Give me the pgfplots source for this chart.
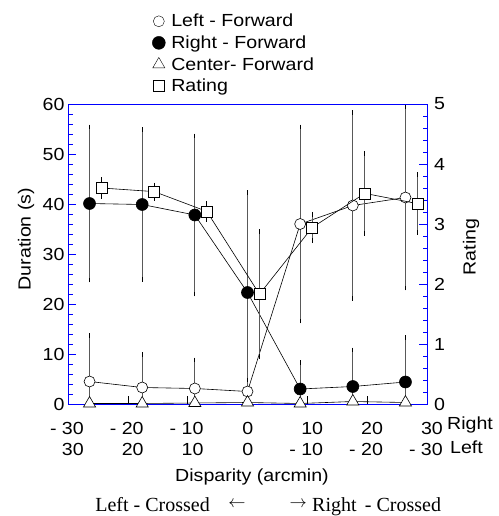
\documentclass[border=0pt]{standalone}
\usepackage{fontspec}
\setmainfont{Liberation Sans}[FakeStretch=1.12]
\newfontfamily\timesfont{Liberation Serif}
\usepackage{pgfplots}
\pgfplotsset{compat=1.18}
\newcommand\fs{\fontsize{17.5bp}{21bp}\selectfont}
\newcommand\serfs{\timesfont\fontsize{20bp}{22bp}\selectfont}

\pgfplotsset{
  errb/.style={error bars/.cd, y dir=both, y explicit,
    error bar style={black!65, line width=0.9bp},
    error mark options={black, mark size=2.4bp, line width=0.8bp}},
  box/.style={at={(68bp,112bp)}, anchor=south west,
    scale only axis, width=359bp, height=300bp, xmin=-30, xmax=30,
    font=\fs, /pgf/number format/assume math mode=true,
    axis line style={blue, line width=0.9bp},
    tick align=inside, major tick length=8bp, minor tick length=4.5bp,
    y tick style={blue, line width=0.8bp}, minor y tick num=4},
}

\begin{document}
\begin{tikzpicture}
\path[use as bounding box] (0bp,0bp) rectangle (499bp,516bp);

\begin{axis}[box,
  ymin=0, ymax=60,
  xtick pos=bottom, ytick pos=left,
  xtick={-30,-20,...,30},
  xticklabels={{- 30\\30},{- 20\\20},{- 10\\10},{0\rule{10bp}{0pt}\\0\rule{10bp}{0pt}},{10\\- 10},{20\\- 20},{30\\- 30}},
  xticklabel style={align=right, anchor=north east, inner sep=0pt, xshift=16bp, yshift=-18bp, font=\fs},
  x tick style={black, line width=0.6bp},
  ytick={0,10,...,60},
  yticklabel style={font=\fs},
  xlabel={Disparity (arcmin)},
  xlabel style={at={(axis description cs:0.5125,-0.2433)}, anchor=center, font=\fs},
  ylabel={Duration (s)},
  ylabel style={at={(axis description cs:-0.117,0.55)}, anchor=center, rotate=0, font=\fs},
  legend style={draw=none, fill=none, at={(axis description cs:0.226,1.3133)}, anchor=north west,
    font=\fs, row sep=3.4bp, /tikz/every odd column/.append style={column sep=4bp}},
  legend cell align=left,
  extra description/.code={
    \node[anchor=west, inner sep=0pt, font=\fs] at (1.0557,-0.07) {Right};
    \node[anchor=west, inner sep=0pt, font=\fs] at (1.064,-0.1433) {Left};
    \node[anchor=east, inner sep=0pt, text depth=0pt, font=\serfs] at (0.3955,-0.335) {Left - Crossed};
    \node[inner sep=0pt] at (0.471,-0.335) {$\leftarrow$};
    \node[inner sep=0pt] at (0.641,-0.335) {$\rightarrow$};
    \node[anchor=west, inner sep=0pt, text depth=0pt, font=\serfs] at (0.6797,-0.335) {Right\, - Crossed};
  },
]
\addlegendimage{only marks, mark=*, mark size=5.5bp, mark options={fill=white, draw=black}}
\addlegendentry{Left - Forward}
\addlegendimage{only marks, mark=*, mark size=6.5bp, mark options={fill=black, draw=black}}
\addlegendentry{Right - Forward}
\addlegendimage{only marks, mark=triangle*, mark size=7bp, mark options={fill=white, draw=black}}
\addlegendentry{Center- Forward}
\addlegendimage{only marks, mark=square*, mark size=5.5bp, mark options={fill=white, draw=black}}
\addlegendentry{Rating}

% Right - Forward
\addplot[black, line width=0.6bp, mark=*, mark size=6bp, mark options={fill=black}, errb] coordinates {
  (-26.4,40.1) +- (0,15.3)
  (-17.6,39.9) +- (0,15.0)
  (-8.8,37.8)  +- (0,15.8)
  (0,22.3)     +- (0,20.0)
  (8.8,3.0)    +- (0,5.3)
  (17.6,3.5)   +- (0,7.3)
  (26.4,4.4)   +- (0,8.9)
};
% Left - Forward
\addplot[black, line width=0.6bp, mark=*, mark size=5.5bp, mark options={fill=white}, errb] coordinates {
  (-26.4,4.5)  +- (0,9.2)
  (-17.6,3.3)  +- (0,6.6)
  (-8.8,3.1)   +- (0,5.7)
  (0,2.5)      +- (0,2.3)
  (8.8,36.0)   +- (0,19.4)
  (17.6,39.7)  +- (0,18.6)
  (26.4,41.3)  +- (0,18.1)
};
% Center - Forward
\addplot[black, line width=0.6bp, mark=triangle*, mark size=7bp, mark options={fill=white}] coordinates {
  (-26.4,0.1) (-17.6,0.1) (-8.8,0.2) (0,0.3) (8.8,0.1) (17.6,0.5) (26.4,0.3)
};
\end{axis}

\begin{axis}[box,
  ymin=0, ymax=5,
  axis x line=none, axis y line*=right,
  ytick={0,1,...,5},
  yticklabel style={font=\fs, xshift=3.5bp},
  ylabel={Rating},
  ylabel style={at={(axis description cs:1.1226,0.523)}, anchor=center, rotate=0, font=\fs},
]
% Rating
\addplot[black, line width=0.6bp, mark=square*, mark size=5.5bp, mark options={fill=white}, errb] coordinates {
  (-24.4,3.60) +- (0,0.14)
  (-15.6,3.54) +- (0,0.11)
  (-6.8,3.21)  +- (0,0.13)
  (2.0,1.83)   +- (0,1.04)
  (10.8,2.94)  +- (0,0.22)
  (19.6,3.51)  +- (0,0.67)
  (28.4,3.34)  +- (0,0.48)
};
\end{axis}
\end{tikzpicture}
\end{document}
